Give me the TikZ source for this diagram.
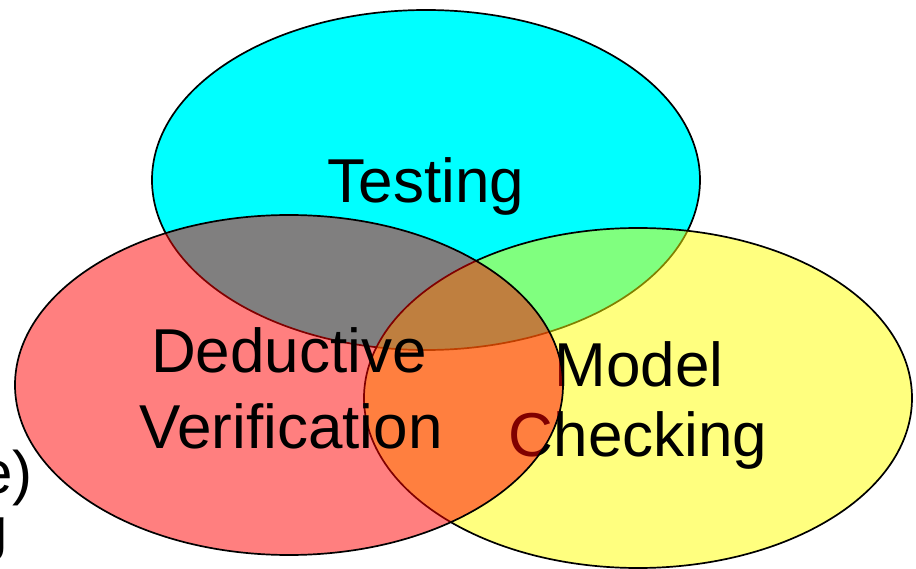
\documentclass[tikz,border=0pt]{standalone}
\usepackage{fontspec}
\setmainfont{Liberation Sans}
\definecolor{aquafill}{RGB}{0,255,255}
\definecolor{redfill}{RGB}{255,0,0}
\definecolor{yellowfill}{RGB}{255,255,0}
\begin{document}
\begin{tikzpicture}[x=1pt,y=-1pt,
  blob/.style={line width=1.7pt,draw=black},
  label/.style={font=\fontsize{62}{70}\selectfont,inner sep=0pt,anchor=base},
  bgtext/.style={font=\fontsize{60}{70}\selectfont,inner sep=0pt}]
  \useasboundingbox (0,0) rectangle (916,569);
  \clip (0,0) rectangle (916,569);

  % fragments of the text lying behind the diagram
  \node[bgtext,anchor=base east] (frag1) at (33,493) {e)};
  \node[bgtext,anchor=base west] (frag2) at (-26,549) {g};

  % Testing
  \fill[aquafill,blob] (426,180) ellipse [x radius=274,y radius=170];
  \node[label] (testing) at (426,203) {Testing};

  % Model Checking
  \path[blob,fill=yellowfill,fill opacity=0.5] (638,398) ellipse [x radius=274,y radius=170];
  \node[label] (model) at (639,386) {Model};
  \node[label] (checking) at (638,456) {Checking};

  % Deductive Verification
  \path[blob,fill=redfill,fill opacity=0.5] (289,385) ellipse [x radius=274,y radius=170];
  \node[label] (deductive) at (289,373) {Deductive};
  \node[label] (verification) at (291,448) {Verification};
\end{tikzpicture}
\end{document}
